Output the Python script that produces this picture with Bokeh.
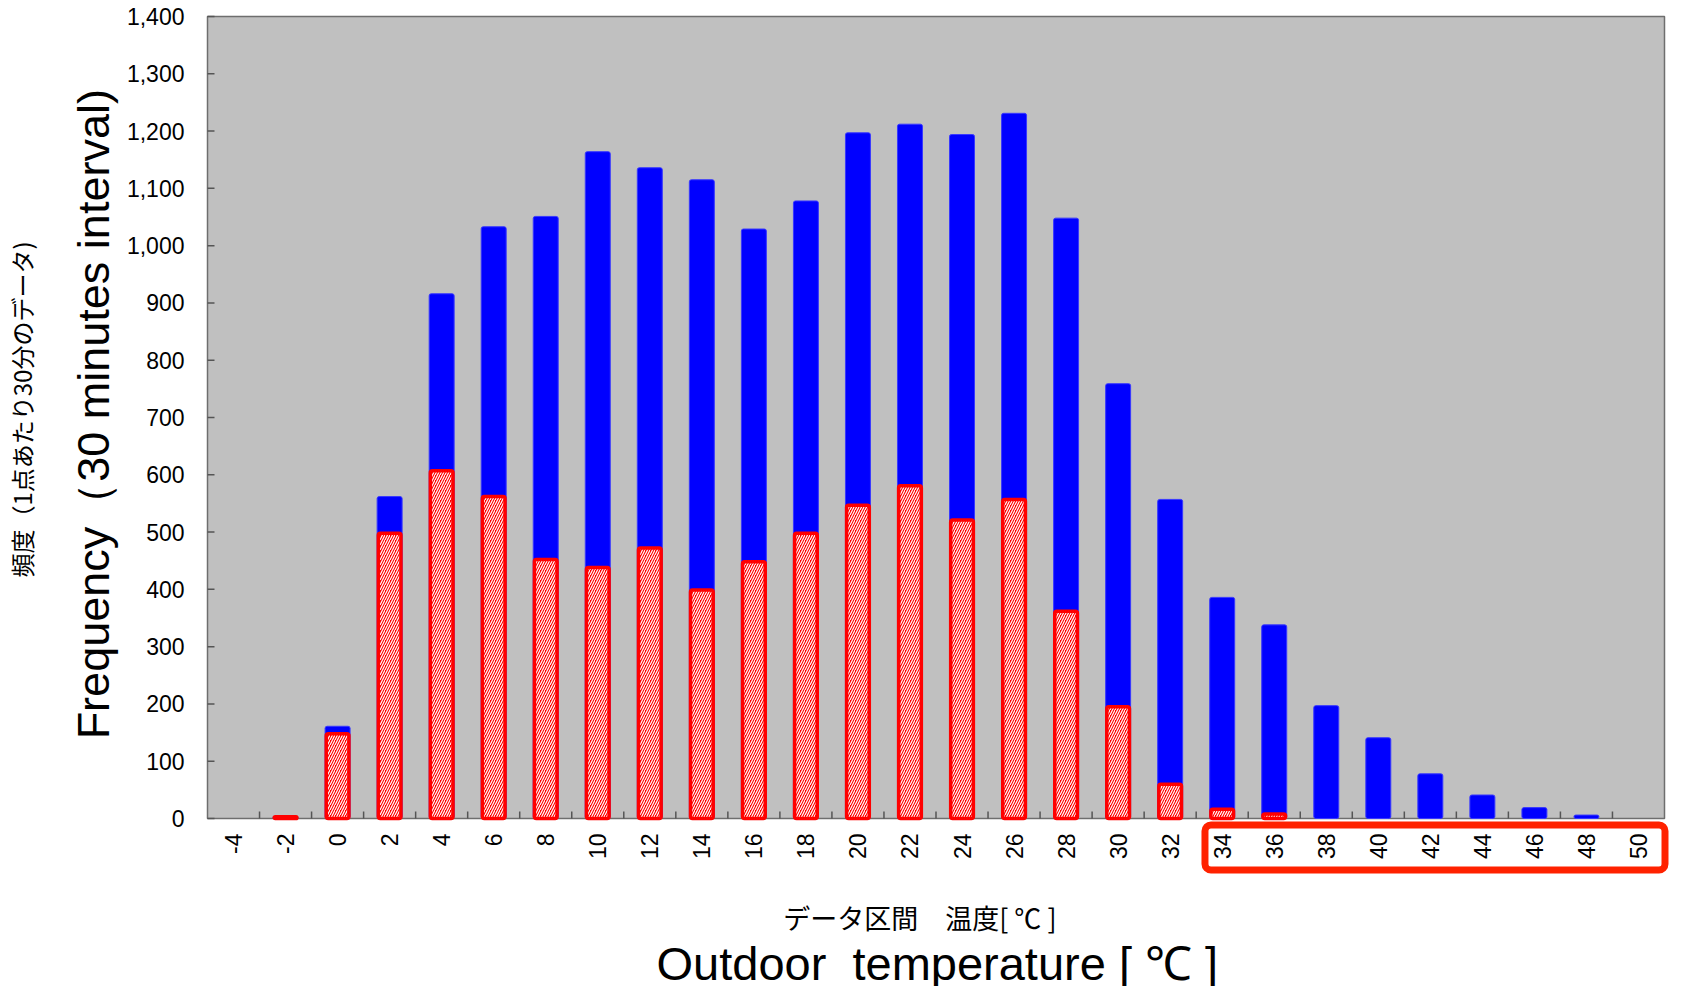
import math
from bokeh.plotting import figure
from bokeh.models import (ColumnDataSource, FixedTicker, NumeralTickFormatter, LinearAxis,
                          BoxAnnotation, Range1d, Title)
from bokeh.core.properties import value
from bokeh.embed import file_html
from bokeh.resources import INLINE

# ---------------- data ----------------
temps = [-4, -2, 0, 2, 4, 6, 8, 10, 12, 14, 16, 18, 20, 22, 24, 26,
         28, 30, 32, 34, 36, 38, 40, 42, 44, 46, 48, 50]
tick_labels = [str(t) for t in temps]
total_freq = [0, 3, 161, 562, 916, 1033, 1051, 1164, 1136, 1115, 1029, 1078, 1197, 1212,
              1194, 1231, 1048, 759, 557, 386, 338, 197, 141, 78, 41, 19, 6, 0]
sub_freq = [0, 3, 148, 498, 607, 562, 452, 438, 472, 399, 448, 498, 547, 581,
            521, 557, 362, 195, 60, 16, 8, 0, 0, 0, 0, 0, 0, 0]
y_ticks = list(range(0, 1401, 100))
highlight_from = 34   # first temperature inside the highlighted label box

y_title_en = "Frequency（30 minutes interval)"
y_title_ja = "頻度（1点あたり30分のデータ)"
x_title_ja = "データ区間\u3000温度[\u00a0℃\u00a0]"
x_title_en = "Outdoor\u00a0\u00a0temperature\u00a0[\u00a0℃\u00a0]"

n = len(temps)
idx = list(range(n))
blue_src = ColumnDataSource(dict(x=[i for i, v in zip(idx, total_freq) if v > 0],
                                 top=[v for v in total_freq if v > 0]))
red_src = ColumnDataSource(dict(x=[i for i, v in zip(idx, sub_freq) if v > 0],
                                top=[v for v in sub_freq if v > 0]))

LAT = "Liberation Sans"
JP = "Noto Sans CJK JP"

# ---------------- geometry (pixels) ----------------
PLOT_W, PLOT_H = 1457, 802           # gray plotting area
cat_px = PLOT_W / n
ppu = PLOT_H / y_ticks[-1]           # pixels per frequency unit
EXT_L, EXT_R, EXT_T, EXT_B = 2, 6, 2, 58
FRAME_H = PLOT_H + EXT_T + EXT_B

p = figure(frame_width=PLOT_W + EXT_L + EXT_R, frame_height=FRAME_H,
           min_border_left=196, min_border_right=5, min_border_top=14, min_border_bottom=102,
           x_range=Range1d(-0.5 - EXT_L / cat_px, n - 0.5 + EXT_R / cat_px),
           y_range=Range1d(-EXT_B / ppu, y_ticks[-1] + EXT_T / ppu),
           output_backend="svg", toolbar_location=None, tools="")
p.background_fill_color = "white"
p.border_fill_color = "white"
p.outline_line_color = None
p.xgrid.visible = False
p.ygrid.visible = False

# gray plotting area with its border
area = BoxAnnotation(left=-0.5, right=n - 0.5, bottom=0, top=y_ticks[-1],
                     fill_color="#C0C0C0", fill_alpha=1,
                     line_color="#6E6E6E", line_width=1.5, line_alpha=1, level="underlay")
p.add_layout(area)

p.vbar(x="x", top="top", bottom=0, width=0.48, source=blue_src,
       fill_color="#0000FF", line_color="#3838FF", line_width=1, border_radius=2)
p.vbar(x="x", top="top", bottom=0, width=0.436, source=red_src,
       fill_color="#FF0000", line_color="#FF0000", line_width=3.5,
       hatch_pattern="right_diagonal_line", hatch_color="white", hatch_scale=5,
       hatch_weight=1.2, border_radius=2)

# inward tick marks
p.ray(x=[-0.5] * len(y_ticks), y=y_ticks, length=7, length_units="screen", angle=0,
      line_color="#555555", line_width=1.5)
bounds = [i + 0.5 for i in idx[:-1]]
p.ray(x=bounds, y=[0] * len(bounds), length=7, length_units="screen", angle=math.pi / 2,
      line_color="#555555", line_width=1.5)

# x tick labels (vertical, reading upward, top-aligned under the axis)
p.text(x=idx, y=[0] * n, text=tick_labels, angle=math.pi / 2,
       text_align="right", text_baseline="middle", y_offset=15,
       text_font=value(LAT), text_font_size="23px", text_color="black")

# red rounded frame round the 34..50 labels
hi = temps.index(highlight_from)
hl = BoxAnnotation(left=hi - 0.5 + 8.8 / cat_px, right=n - 0.5 + 0.5 / cat_px,
                   top=-6.5 / ppu, bottom=-51.5 / ppu,
                   fill_alpha=0, line_color="#FF2200", line_width=7, line_alpha=1,
                   border_radius=6, level="overlay")
p.add_layout(hl)

# y axis: tick labels + English title (leading spaces lift it to the gray area's centre)
ya = p.yaxis[0]
ya.ticker = FixedTicker(ticks=y_ticks)
ya.formatter = NumeralTickFormatter(format="0,0")
ya.major_tick_line_color = None
ya.major_tick_in = 0
ya.major_tick_out = 0
ya.minor_tick_line_color = None
ya.axis_line_color = None
ya.major_label_text_font = LAT
ya.major_label_text_font_size = "23px"
ya.major_label_text_color = "black"
ya.major_label_standoff = 21
ya.axis_label = "\u00a0" * 5 + y_title_en
ya.axis_label_text_font = LAT
ya.axis_label_text_font_size = "45px"
ya.axis_label_text_font_style = "normal"
ya.axis_label_text_color = "black"
ya.axis_label_standoff = 5

ya2 = LinearAxis(ticker=FixedTicker(ticks=[]), axis_line_color=None,
                 major_tick_line_color=None, minor_tick_line_color=None,
                 axis_label="\u3000" * 3 + y_title_ja, axis_label_text_font=JP,
                 axis_label_text_font_size="24px", axis_label_text_font_style="normal",
                 axis_label_text_color="black", axis_label_standoff=26)
p.add_layout(ya2, "left")

# x axis: carries the Japanese title
xa = p.xaxis[0]
xa.ticker = FixedTicker(ticks=[])
xa.axis_line_color = None
xa.major_tick_line_color = None
xa.minor_tick_line_color = None
xa.major_tick_out = 0
xa.major_tick_in = 0
xa.major_label_standoff = 0
xa.axis_label = x_title_ja + "\u00a0" * 6
xa.axis_label_text_font = JP
xa.axis_label_text_font_size = "27px"
xa.axis_label_text_font_style = "normal"
xa.axis_label_text_color = "black"
xa.axis_label_standoff = 21

t_x_en = Title(text=x_title_en, text_font=LAT, text_font_size="47px",
               text_font_style="normal", text_color="black", align="left",
               vertical_align="top", offset=EXT_L + 449, standoff=-6)
p.add_layout(t_x_en, "below")

open("out.html", "w").write(file_html(p, INLINE))
